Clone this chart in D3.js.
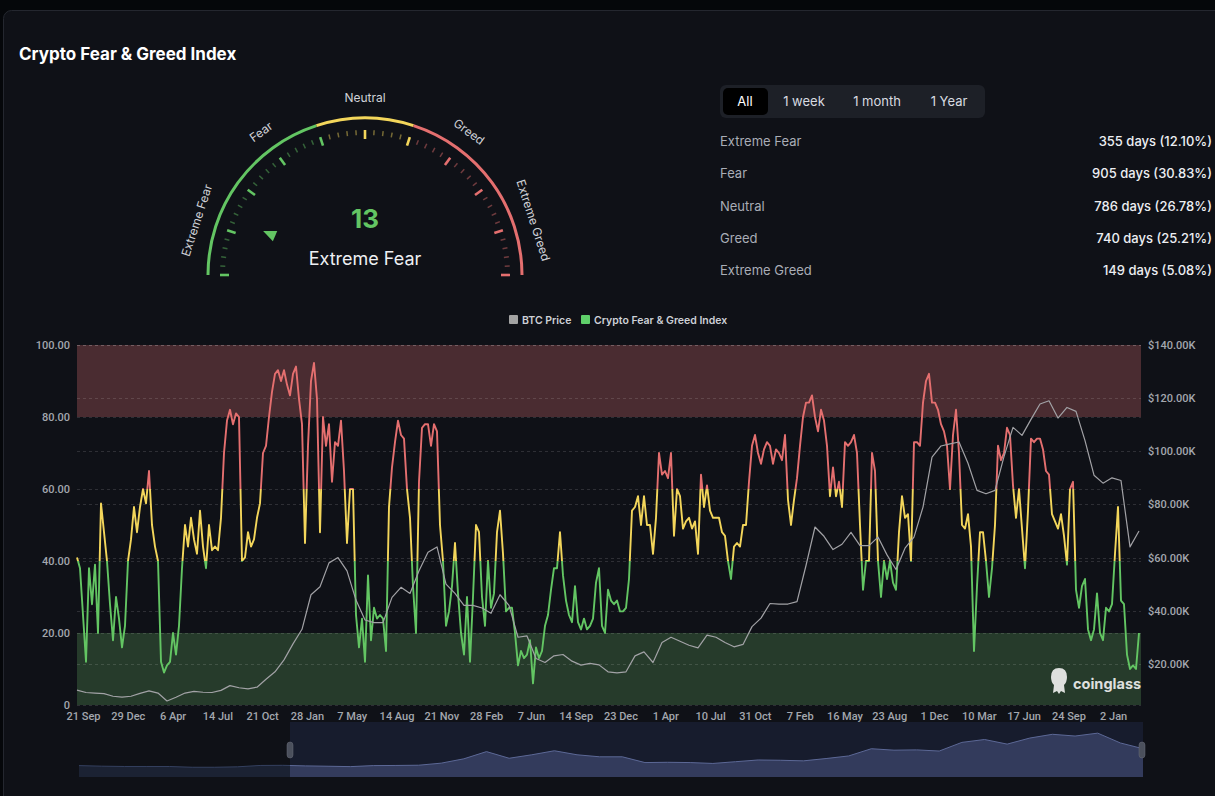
<!DOCTYPE html>
<html>
<head>
<meta charset="utf-8">
<script src="https://cdn.jsdelivr.net/npm/d3@7"></script>
<style>
  html, body { margin: 0; padding: 0; background: #05070a; overflow: hidden; }
  svg { display: block; font-family: Inter, "Noto Sans", sans-serif; }
</style>
</head>
<body>
<svg id="chart" width="1215" height="796" viewBox="0 0 1215 796"></svg>
<script>
// ---- data ----
const currentValue = 13;
const currentLabel = "Extreme Fear";

const gaugeLabels = ["Extreme Fear", "Fear", "Neutral", "Greed", "Extreme Greed"];
const gaugeLabelValues = [10, 30, 50, 70, 90];
const zoneBreaks = [0, 40, 60, 100];

const rangeButtons = ["All", "1 week", "1 month", "1 Year"];

const statLabels = ["Extreme Fear", "Fear", "Neutral", "Greed", "Extreme Greed"];
const statValues = ["355 days (12.10%)", "905 days (30.83%)", "786 days (26.78%)", "740 days (25.21%)", "149 days (5.08%)"];

const xLabels = ["21 Sep", "29 Dec", "6 Apr", "14 Jul", "21 Oct", "28 Jan", "7 May", "14 Aug",
  "21 Nov", "28 Feb", "7 Jun", "14 Sep", "23 Dec", "1 Apr", "10 Jul", "31 Oct", "7 Feb",
  "16 May", "23 Aug", "1 Dec", "10 Mar", "17 Jun", "24 Sep", "2 Jan"];
const xLabelStart = 2;      // sample index of first label
const xLabelStep = 14.93;   // samples between labels

const leftTicks = [0, 20, 40, 60, 80, 100];
const rightTicks = [20, 40, 60, 80, 100, 120, 140];

// Fear & Greed index, one sample per ~week of the zoomed range
const fgValues = [
  41, 38, 25, 12, 38, 28, 39, 20, 56, 48, 40, 28, 18, 30, 24, 16, 22, 40, 46, 55,
  48, 55, 60, 56, 65, 50, 44, 40, 12, 9, 11, 12, 20, 14, 22, 38, 50, 44, 52, 46,
  42, 54, 44, 38, 50, 43, 44, 43, 52, 70, 79, 82, 78, 81, 80, 40, 41, 48, 44, 46,
  52, 56, 70, 72, 80, 87, 92, 93, 90, 93, 89, 86, 92, 94, 85, 78, 45, 72, 90, 95,
  85, 48, 80, 72, 78, 62, 73, 72, 79, 65, 45, 60, 60, 25, 16, 24, 12, 36, 18, 27,
  24, 25, 24, 15, 55, 66, 73, 79, 75, 74, 60, 52, 33, 20, 62, 77, 78, 78, 72, 78,
  76, 50, 40, 22, 26, 33, 45, 31, 20, 14, 30, 12, 30, 50, 48, 30, 22, 40, 27, 31,
  48, 54, 42, 26, 27, 27, 20, 11, 15, 13, 14, 18, 6, 16, 13, 15, 22, 25, 32, 38,
  38, 48, 36, 29, 25, 23, 33, 23, 21, 24, 21, 22, 24, 34, 38, 22, 20, 32, 29, 28,
  29, 26, 26, 27, 35, 54, 55, 58, 50, 58, 50, 50, 42, 52, 70, 64, 65, 63, 70, 47,
  60, 58, 49, 51, 52, 49, 51, 42, 64, 55, 61, 54, 52, 52, 52, 48, 47, 40, 35, 44,
  45, 44, 50, 50, 62, 72, 75, 70, 67, 71, 73, 72, 67, 71, 70, 68, 75, 57, 50, 57,
  63, 72, 80, 84, 84, 86, 80, 76, 82, 79, 72, 58, 66, 58, 62, 55, 73, 72, 73, 75,
  70, 50, 32, 40, 40, 70, 65, 40, 30, 40, 35, 40, 34, 32, 48, 58, 52, 53, 40, 73,
  73, 72, 84, 90, 92, 84, 84, 82, 78, 76, 72, 60, 75, 82, 70, 50, 49, 53, 44, 15,
  33, 48, 48, 40, 30, 38, 50, 72, 68, 70, 77, 75, 61, 52, 60, 49, 38, 54, 74, 73,
  74, 74, 71, 65, 64, 53, 51, 49, 53, 47, 39, 60, 62, 32, 27, 33, 35, 21, 18, 21,
  31, 20, 18, 27, 26, 28, 42, 55, 29, 28, 14, 10, 11, 10, 20
];

// BTC price in $K, one sample every 3 index samples
const btcValues = [
  10.1, 9.2, 9.0, 8.8, 7.8, 7.5, 7.8, 8.9, 9.8, 9.0, 6.0, 7.4, 9.0, 9.6, 9.3, 9.2, 10.0, 11.8, 11.0, 10.6,
  11.2, 14.2, 17.0, 21.5, 27.5, 33, 46, 49, 58, 60, 55, 44, 36.5, 35.5, 35.5, 45, 48.8, 46.5, 55, 62,
  64, 50, 46.5, 42, 42, 41, 39, 46, 42, 30, 30.5, 22, 20.5, 23, 23.5, 21, 19.5, 20.2, 19.6, 17,
  16.6, 17, 23, 24.5, 20.5, 28, 30, 28.5, 27, 26, 30.8, 30, 28, 26.4, 27.3, 34, 37.2, 42.7, 42.5, 42.5,
  43.4, 57, 71.5, 68, 63, 65, 69.5, 64.5, 64.5, 67.7, 61, 55.5, 63.5, 67.7, 79, 97.8, 102, 102.8, 103.5, 95.5,
  85.3, 84, 85.3, 98, 109, 106, 112, 117.8, 119, 112.5, 116.5, 115, 104, 91, 88, 90, 89, 64, 70
];
const btcStep = 3;

// full-history BTC price ($K) for the navigator
const navValues = [
  9.5, 7.5, 6.5, 6.5, 6.4, 3.8, 3.8, 5.3, 10, 10.5, 8.5, 7.3, 6, 9.5, 10, 10.8, 18, 33, 58, 35,
  47, 61, 47, 40, 40, 20, 21, 20, 17, 23, 29, 28, 26, 34, 43, 68, 63, 64, 60, 90,
  100, 84, 105, 118, 112, 122, 88, 68
];

// ---- layout ----
const W = 1215, H = 796;
const svg = d3.select("#chart");
const defs = svg.append("defs");

const C = {
  card: "#0f1117", cardStroke: "#24272f",
  green: "#63c563", yellow: "#f3d65b", red: "#e46f6f",
  text: "#e6e8ec", sub: "#a9adb6", axis: "#a3a7ae"
};

svg.append("rect").attr("width", W).attr("height", H).attr("fill", "#05070a");
svg.append("rect")
  .attr("x", 3.5).attr("y", 10.5).attr("width", W + 20).attr("height", H + 20)
  .attr("rx", 8).attr("fill", C.card).attr("stroke", C.cardStroke);

svg.append("text")
  .attr("x", 19).attr("y", 60)
  .attr("fill", "#fff").attr("font-size", "17px").attr("font-weight", 700)
  .text("Crypto Fear & Greed Index");

// ---- gauge ----
const gcx = 365, gcy = 275, gr = 157;
const gAngle = d3.scaleLinear().domain([0, 100]).range([-Math.PI / 2, Math.PI / 2]);
const zoneColor = v => v <= zoneBreaks[1] ? C.green : (v <= zoneBreaks[2] ? C.yellow : C.red);
const gauge = svg.append("g").attr("transform", `translate(${gcx},${gcy})`);

const zoneColors = [C.green, C.yellow, C.red];
for (let i = 0; i < zoneBreaks.length - 1; i++) {
  gauge.append("path")
    .attr("d", d3.arc()({
      innerRadius: gr - 1.5, outerRadius: gr + 1.5,
      startAngle: gAngle(zoneBreaks[i]), endAngle: gAngle(zoneBreaks[i + 1])
    }))
    .attr("fill", zoneColors[i]);
}

d3.range(0, 101, 2).forEach(v => {
  const a = gAngle(v);
  const major = v % 10 === 0;
  const r1 = major ? 136 : 140, r2 = 145;
  gauge.append("line")
    .attr("x1", r1 * Math.sin(a)).attr("y1", -r1 * Math.cos(a))
    .attr("x2", r2 * Math.sin(a)).attr("y2", -r2 * Math.cos(a))
    .attr("stroke", zoneColor(v))
    .attr("stroke-width", major ? 2.6 : 1.5)
    .attr("opacity", major ? 1 : 0.45);
});

gaugeLabels.forEach((t, i) => {
  const a = gAngle(gaugeLabelValues[i]);
  const r = 176;
  const deg = a * 180 / Math.PI;
  gauge.append("text")
    .attr("transform", `translate(${r * Math.sin(a)},${-r * Math.cos(a)}) rotate(${deg})`)
    .attr("text-anchor", "middle").attr("dominant-baseline", "middle")
    .attr("fill", "#cfd2d8").attr("font-size", "12px")
    .text(t);
});

// pointer, aimed at the current value on the arc
gauge.append("path")
  .attr("transform", `rotate(${gAngle(currentValue) * 180 / Math.PI}) translate(0,-103)`)
  .attr("d", "M0,-8 L5.5,5 L-5.5,5 Z")
  .attr("fill", C.green);

gauge.append("text")
  .attr("x", 0).attr("y", -47)
  .attr("text-anchor", "middle")
  .attr("fill", C.green).attr("font-size", "26px").attr("font-weight", 700)
  .text(currentValue);

gauge.append("text")
  .attr("x", 0).attr("y", -10)
  .attr("text-anchor", "middle")
  .attr("fill", "#eef0f3").attr("font-size", "18px")
  .text(currentLabel);

// ---- range buttons + stats ----
svg.append("rect")
  .attr("x", 720).attr("y", 85).attr("width", 265).attr("height", 33)
  .attr("rx", 6).attr("fill", "#1d2027");
svg.append("rect")
  .attr("x", 723).attr("y", 88).attr("width", 45).attr("height", 27)
  .attr("rx", 5).attr("fill", "#000");
const btnCenters = [745, 804, 877, 949];
rangeButtons.forEach((b, i) => {
  svg.append("text")
    .attr("x", btnCenters[i]).attr("y", 106)
    .attr("text-anchor", "middle")
    .attr("fill", i === 0 ? "#fff" : "#d8dbe0").attr("font-size", "13px")
    .text(b);
});

statLabels.forEach((t, i) => {
  const y = 146 + i * 32.3;
  svg.append("text").attr("x", 720).attr("y", y)
    .attr("fill", C.sub).attr("font-size", "13px").text(t);
  svg.append("text").attr("x", 1212).attr("y", y)
    .attr("text-anchor", "end").attr("font-weight", 500)
    .attr("fill", "#eceef2").attr("font-size", "13px").text(statValues[i]);
});

// ---- main chart ----
const plot = { left: 77, right: 1141, top: 345, bottom: 705 };
const x = d3.scaleLinear().domain([0, fgValues.length - 1]).range([plot.left, plot.right - 2]);
const yL = d3.scaleLinear().domain([0, 100]).range([plot.bottom, plot.top]);
const yR = d3.scaleLinear().domain([4.5, 140]).range([plot.bottom, plot.top]);

// legend
const legend = svg.append("g").attr("font-size", "10.5px").attr("font-weight", 600).attr("fill", "#cdd0d6");
legend.append("rect").attr("x", 509).attr("y", 315).attr("width", 9).attr("height", 9).attr("rx", 1).attr("fill", "#a3a3a3");
legend.append("text").attr("x", 522).attr("y", 323.5).text("BTC Price");
legend.append("rect").attr("x", 581).attr("y", 315).attr("width", 9).attr("height", 9).attr("rx", 1).attr("fill", "#5fd06a");
legend.append("text").attr("x", 594).attr("y", 323.5).text("Crypto Fear & Greed Index");

// bands
svg.append("rect")
  .attr("x", plot.left).attr("width", plot.right - plot.left)
  .attr("y", yL(100)).attr("height", yL(80) - yL(100))
  .attr("fill", "#4a2c31");
svg.append("rect")
  .attr("x", plot.left).attr("width", plot.right - plot.left)
  .attr("y", yL(20)).attr("height", yL(0) - yL(20))
  .attr("fill", "#263b2b");

// grid
const grid = svg.append("g").attr("stroke", "#ffffff").attr("stroke-opacity", 0.13)
  .attr("stroke-dasharray", "3,3").attr("stroke-width", 1);
leftTicks.forEach(t => {
  grid.append("line").attr("x1", plot.left).attr("x2", plot.right)
    .attr("y1", Math.round(yL(t)) + 0.5).attr("y2", Math.round(yL(t)) + 0.5);
});
rightTicks.forEach(t => {
  grid.append("line").attr("x1", plot.left).attr("x2", plot.right)
    .attr("y1", Math.round(yR(t)) + 0.5).attr("y2", Math.round(yR(t)) + 0.5);
});

// axes
const axisFont = "Roboto, Inter, sans-serif";
const leftAxis = svg.append("g")
  .attr("transform", `translate(${plot.left},0)`)
  .call(d3.axisLeft(yL).tickValues(leftTicks).tickSize(0).tickPadding(7)
    .tickFormat(d => d === 0 ? "0" : d.toFixed(2)));
const rightAxis = svg.append("g")
  .attr("transform", `translate(${plot.right},0)`)
  .call(d3.axisRight(yR).tickValues(rightTicks).tickSize(0).tickPadding(7)
    .tickFormat(d => `$${d.toFixed(2)}K`));
const xAxis = svg.append("g")
  .attr("transform", `translate(0,${plot.bottom})`)
  .call(d3.axisBottom(x)
    .tickValues(xLabels.map((_, i) => xLabelStart + i * xLabelStep))
    .tickSize(0).tickPadding(7)
    .tickFormat((d, i) => xLabels[i]));
[leftAxis, rightAxis, xAxis].forEach(a => {
  a.select(".domain").remove();
  a.selectAll("text").attr("fill", C.axis).attr("font-size", "11px")
    .attr("font-weight", 500).attr("font-family", axisFont);
});

// F&G line coloured by zone
const fgLine = d3.line().x((d, i) => x(i)).y(d => yL(d));
for (let i = 0; i < zoneBreaks.length - 1; i++) {
  const top = i === zoneBreaks.length - 2 ? 0 : yL(zoneBreaks[i + 1]);
  const bottom = i === 0 ? plot.bottom + 5 : yL(zoneBreaks[i]);
  defs.append("clipPath").attr("id", "zone" + i)
    .append("rect")
    .attr("x", plot.left - 2).attr("width", plot.right - plot.left + 4)
    .attr("y", top).attr("height", bottom - top);
  svg.append("path")
    .datum(fgValues)
    .attr("clip-path", `url(#zone${i})`)
    .attr("d", fgLine)
    .attr("fill", "none")
    .attr("stroke", zoneColors[i])
    .attr("stroke-width", 1.9)
    .attr("stroke-linejoin", "round");
}

// BTC price line
const btcLine = d3.line().x((d, j) => x(j * btcStep)).y(d => yR(d));
svg.append("path")
  .datum(btcValues)
  .attr("d", btcLine)
  .attr("fill", "none")
  .attr("stroke", "#a2a2a6")
  .attr("stroke-width", 1.2)
  .attr("stroke-linejoin", "round");

// watermark
const wm = svg.append("g").attr("fill", "#f2f2f2").attr("opacity", 0.9);
wm.append("path")
  .attr("d", "M1051,677 q0,-9 8,-9 q8,0 8,9 q0,5 -3,8 l1,8 l-4,-2 l-2,3 l-2,-3 l-4,2 l1,-8 q-3,-3 -3,-8 Z");
wm.append("text").attr("x", 1073).attr("y", 689)
  .attr("font-size", "14.5px").attr("font-weight", 700).text("coinglass");

// ---- navigator ----
const nav = { left: 79, right: 1143, top: 722, bottom: 777, selStart: 290 };
const nx = d3.scaleLinear().domain([0, navValues.length - 1]).range([nav.left, nav.right]);
const ny = d3.scaleLinear().domain([-30, 126]).range([nav.bottom, nav.top + 10]);

svg.append("rect")
  .attr("x", nav.selStart).attr("y", nav.top)
  .attr("width", nav.right - nav.selStart).attr("height", nav.bottom - nav.top)
  .attr("fill", "#171c2d");

const navArea = d3.area().x((d, i) => nx(i)).y0(nav.bottom).y1(d => ny(d));
const navLine = d3.line().x((d, i) => nx(i)).y(d => ny(d));

defs.append("clipPath").attr("id", "navOut").append("rect")
  .attr("x", nav.left).attr("y", nav.top).attr("width", nav.selStart - nav.left).attr("height", 60);
defs.append("clipPath").attr("id", "navIn").append("rect")
  .attr("x", nav.selStart).attr("y", nav.top).attr("width", nav.right - nav.selStart).attr("height", 60);

svg.append("path").datum(navValues).attr("clip-path", "url(#navOut)")
  .attr("d", navArea).attr("fill", "#1b2233");
svg.append("path").datum(navValues).attr("clip-path", "url(#navOut)")
  .attr("d", navLine).attr("fill", "none").attr("stroke", "#34405f").attr("stroke-width", 1);
svg.append("path").datum(navValues).attr("clip-path", "url(#navIn)")
  .attr("d", navArea).attr("fill", "#333b5c");
svg.append("path").datum(navValues).attr("clip-path", "url(#navIn)")
  .attr("d", navLine).attr("fill", "none").attr("stroke", "#5c6896").attr("stroke-width", 1);

[nav.selStart, nav.right - 1].forEach(hx => {
  svg.append("rect")
    .attr("x", hx - 3).attr("y", 742).attr("width", 6).attr("height", 16)
    .attr("rx", 3).attr("fill", "#4b505c").attr("stroke", "#6a6f7a").attr("stroke-width", 0.5);
});
</script>
</body>
</html>
